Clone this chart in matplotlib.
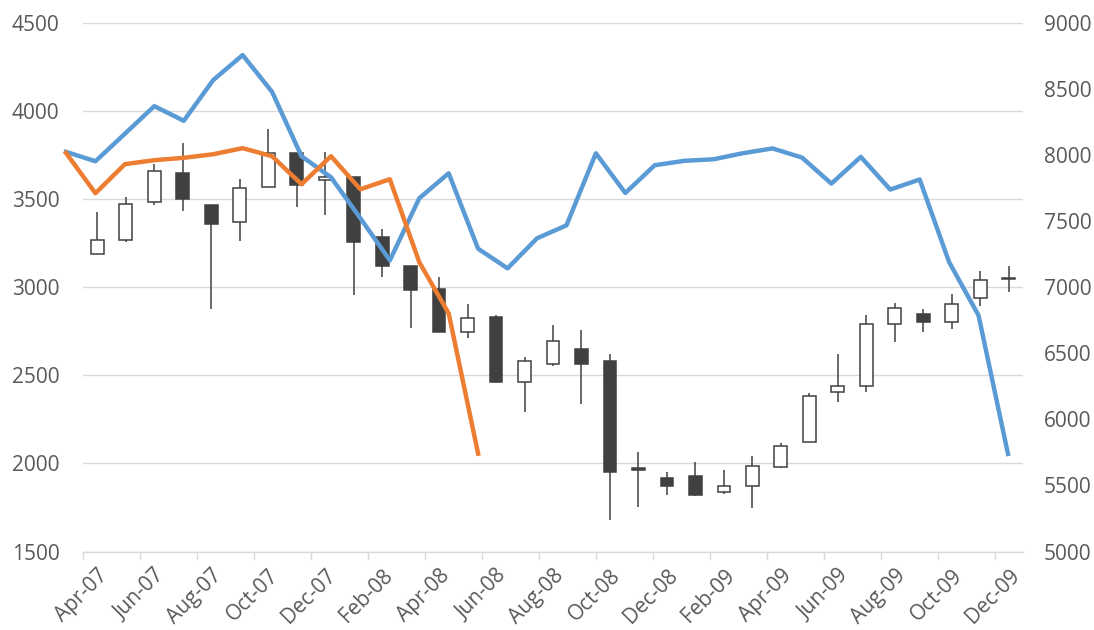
import matplotlib
matplotlib.use('Agg')
import matplotlib.pyplot as plt
import numpy as np

plt.rcParams['font.family'] = ['Open Sans', 'DejaVu Sans']

# 月份标签
months = ['Apr-07', 'May-07', 'Jun-07', 'Jul-07', 'Aug-07', 'Sep-07', 'Oct-07', 'Nov-07', 'Dec-07',
          'Jan-08', 'Feb-08', 'Mar-08', 'Apr-08', 'May-08', 'Jun-08', 'Jul-08', 'Aug-08', 'Sep-08',
          'Oct-08', 'Nov-08', 'Dec-08', 'Jan-09', 'Feb-09', 'Mar-09', 'Apr-09', 'May-09', 'Jun-09',
          'Jul-09', 'Aug-09', 'Sep-09', 'Oct-09', 'Nov-09', 'Dec-09']

# K线 开 高 低 收
open_ = [3190, 3269, 3483, 3648, 3468, 3370, 3568, 3761, 3605, 3625, 3284, 3118, 2987, 2744, 2830, 2460, 2561,
         2646, 2578, 1975, 1915, 1926, 1835, 1869, 1981, 2119, 2403, 2438, 2792, 2849, 2801, 2940, 3046]
high = [3426, 3511, 3701, 3815, 3468, 3612, 3896, 3761, 3767, 3625, 3328, 3118, 3057, 2906, 2839, 2606, 2783,
        2758, 2622, 2062, 1953, 2006, 1962, 2040, 2118, 2398, 2622, 2839, 2909, 2877, 2962, 3089, 3119]
low = [3190, 3256, 3464, 3430, 2877, 3260, 3568, 3455, 3407, 2953, 3057, 2767, 2744, 2712, 2455, 2290, 2555,
       2334, 1678, 1754, 1822, 1815, 1824, 1744, 1975, 2119, 2347, 2403, 2688, 2744, 2764, 2892, 2972]
close = [3269, 3474, 3657, 3497, 3360, 3565, 3761, 3578, 3625, 3256, 3118, 2981, 2744, 2824, 2460, 2578, 2693,
         2561, 1949, 1962, 1869, 1820, 1869, 1983, 2098, 2385, 2438, 2792, 2883, 2801, 2906, 3042, 3050]

# 右轴两条线
blue = [8023, 7952, 8160, 8369, 8258, 8566, 8755, 8477, 7990, 7831, 7521, 7202, 7672, 7861, 7290, 7142, 7369,
        7467, 8012, 7712, 7922, 7955, 7967, 8013, 8049, 7980, 7783, 7985, 7738, 7814, 7189, 6786, 5738]
orange = [8015, 7710, 7930, 7960, 7978, 8005, 8051, 7990, 7778, 7990, 7740, 7816, 7189, 6801, 5740]

W, H = 1094, 630
fig = plt.figure(figsize=(W / 100, H / 100), dpi=100)
rect = [83 / W, 1 - 551.5 / H, 940 / W, 528.8 / H]
ax = fig.add_axes(rect)

gray = '#595959'
dark = '#404040'
x = np.arange(len(months))
o = np.array(open_); c = np.array(close)
up = c >= o
ax.vlines(x, low, high, color=dark, lw=1.1, zorder=2)
bottom = np.minimum(o, c)
height = np.maximum(np.abs(c - o), 4)
ax.bar(x, height, bottom=bottom, width=0.45, color=np.where(up, 'white', dark),
       edgecolor=dark, linewidth=1.1, zorder=3)

ax.set_xlim(-0.5, len(months) - 0.5)
ax.set_ylim(1500, 4500)
ax.set_yticks(np.arange(1500, 4501, 500))
ax.grid(axis='y', color='#d9d9d9', lw=1.0, zorder=0)
ax.set_axisbelow(True)
for s in ['top', 'left', 'right']:
    ax.spines[s].set_visible(False)
ax.spines['bottom'].set_color('#d9d9d9')
ax.spines['bottom'].set_linewidth(1.0)
ax.tick_params(axis='y', length=0, pad=17, labelsize=15, labelcolor=gray)
ax.set_xticks(np.arange(-0.5, len(months) - 1, 2))
ax.set_xticklabels([])
ax.set_xticks(x[::2], minor=True)
ax.set_xticklabels(months[::2], minor=True, rotation=45, ha='right', rotation_mode='anchor')
ax.tick_params(axis='x', which='major', length=5.5, color='#d9d9d9', width=1.0)
ax.tick_params(axis='x', which='minor', length=0, pad=10, labelsize=15, labelcolor=gray)

# 右轴
ax2 = fig.add_axes(rect, label='lines')
ax2.patch.set_visible(False)
for s in ax2.spines.values():
    s.set_visible(False)
ax2.set_xlim(0.577, 32.51)
ax2.set_ylim(5000, 9000)
ax2.set_yticks(np.arange(5000, 9001, 500))
ax2.yaxis.tick_right()
ax2.tick_params(axis='y', length=0, pad=15, labelsize=15, labelcolor=gray)
ax2.set_xticks([])
ax2.plot(np.arange(len(blue)), blue, color='#5B9BD5', lw=3.2, clip_on=False, solid_joinstyle='round')
ax2.plot(np.arange(len(orange)), orange, color='#ED7D31', lw=3.2, clip_on=False, solid_joinstyle='round')

fig.savefig('out.png', dpi=100)
